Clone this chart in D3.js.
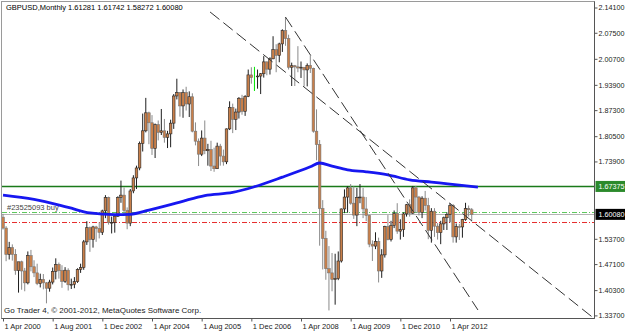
<!DOCTYPE html>
<html>
<head>
<meta charset="utf-8">
<script src="https://cdn.jsdelivr.net/npm/d3@7/dist/d3.min.js"></script>
<style>
  body { margin: 0; background: #fff; }
  text { font-family: "Liberation Sans", Arial, sans-serif; }
</style>
</head>
<body>
<div id="my_chart"></div>
<script>
// GBPUSD monthly bars, first bar = Apr 2000, last = Nov 2012
var opens = [1.5935,1.5650,1.4960,1.5140,1.4960,1.4540,1.4770,1.4530,1.4220,1.4930,1.4640,1.4480,
  1.4200,1.4310,1.4220,1.4080,1.4240,1.4520,1.4700,1.4540,1.4260,1.4550,1.4170,1.4180,
  1.4250,1.4570,1.4620,1.5290,1.5660,1.5350,1.5680,1.5640,1.5540,1.6100,1.6450,1.5790,
  1.5800,1.5960,1.6450,1.6510,1.6110,1.5780,1.6620,1.6960,1.7220,1.7860,1.8190,1.8660,
  1.8400,1.7730,1.8350,1.8150,1.8190,1.8020,1.8110,1.8390,1.9100,1.9190,1.8840,1.9190,
  1.8890,1.9080,1.8180,1.7920,1.7580,1.8000,1.7670,1.7700,1.7270,1.7200,1.7790,1.7530,
  1.7380,1.8240,1.8800,1.8490,1.8680,1.9040,1.8700,1.9090,1.9650,1.9580,1.9600,1.9620,
  1.9680,1.9990,1.9800,2.0070,2.0310,2.0160,2.0460,2.0810,2.0600,1.9850,1.9890,1.9860,
  1.9830,1.9850,1.9780,1.9900,1.9820,1.8180,1.7830,1.6160,1.5380,1.4590,1.4480,1.4310,
  1.4330,1.4790,1.6150,1.6460,1.6700,1.6300,1.5990,1.6450,1.6460,1.6150,1.5980,1.5230,
  1.5180,1.5300,1.4530,1.4950,1.5690,1.5350,1.5720,1.6030,1.5570,1.5610,1.6020,1.6260,
  1.6040,1.6700,1.6460,1.6060,1.6430,1.6240,1.5590,1.6090,1.5700,1.5530,1.5760,1.5920,
  1.6000,1.6240,1.5420,1.5690,1.5680,1.5870,1.6160,1.61281];
var highs = [1.6020,1.5700,1.5290,1.5225,1.5100,1.4740,1.4800,1.4610,1.5040,1.5080,1.4810,1.4720,
  1.4460,1.4450,1.4240,1.4300,1.4620,1.4860,1.4750,1.4680,1.4630,1.4600,1.4330,1.4370,
  1.4600,1.4720,1.5340,1.5830,1.5690,1.5710,1.5710,1.5800,1.6130,1.6510,1.6470,1.5950,
  1.5980,1.6480,1.6890,1.6710,1.6190,1.6670,1.7030,1.7280,1.7910,1.8640,1.9050,1.8690,
  1.8600,1.8380,1.8460,1.8760,1.8500,1.8190,1.8480,1.9150,1.9550,1.9200,1.9270,1.9340,
  1.9220,1.9170,1.8410,1.7990,1.8200,1.8460,1.7850,1.7930,1.7750,1.7880,1.7850,1.7700,
  1.8250,1.8960,1.8900,1.8770,1.9070,1.9130,1.9120,1.9790,1.9850,1.9860,1.9790,1.9700,
  2.0140,2.0000,2.0110,2.0660,2.0450,2.0490,2.0840,2.1160,2.0700,1.9970,1.9910,2.0400,
  2.0000,1.9850,1.9950,2.0160,1.9840,1.8750,1.7950,1.6380,1.5580,1.5180,1.5000,1.4980,
  1.5040,1.6160,1.6660,1.6740,1.6800,1.6740,1.6700,1.6800,1.6700,1.6460,1.6000,1.5330,
  1.5540,1.5400,1.5100,1.5710,1.5990,1.5840,1.6110,1.6300,1.5880,1.6060,1.6280,1.6400,
  1.6750,1.6750,1.6490,1.6480,1.6620,1.6440,1.6170,1.6170,1.5780,1.5840,1.5950,1.6060,
  1.6300,1.6280,1.5770,1.5760,1.5890,1.6310,1.6240,1.61742];
var lows = [1.5610,1.4785,1.4830,1.4800,1.4430,1.3965,1.4040,1.4000,1.4180,1.4520,1.4370,1.4160,
  1.4100,1.4050,1.3685,1.3990,1.4180,1.4310,1.4330,1.4090,1.4220,1.4020,1.4060,1.4080,
  1.4220,1.4480,1.4560,1.5210,1.5030,1.5140,1.5290,1.5380,1.5470,1.5910,1.5740,1.5510,
  1.5530,1.5940,1.6310,1.6010,1.5620,1.5700,1.6560,1.6670,1.7160,1.7650,1.8150,1.7840,
  1.7560,1.7480,1.7940,1.8080,1.7880,1.7740,1.7760,1.8240,1.9010,1.8560,1.8530,1.8720,
  1.8550,1.8150,1.7810,1.7270,1.7530,1.7580,1.7280,1.7140,1.7120,1.7200,1.7280,1.7280,
  1.7320,1.8210,1.8130,1.8210,1.8510,1.8610,1.8580,1.9070,1.9420,1.9230,1.9290,1.9150,
  1.9580,1.9640,1.9660,2.0060,1.9720,1.9980,2.0250,2.0410,1.9790,1.9360,1.9360,1.9720,
  1.9570,1.9350,1.9350,1.9700,1.8140,1.7420,1.5190,1.4570,1.4300,1.3500,1.4000,1.3650,
  1.4290,1.4750,1.6040,1.6050,1.6260,1.5890,1.5700,1.6300,1.5910,1.5830,1.5150,1.4790,
  1.5100,1.4230,1.4350,1.4880,1.5330,1.5300,1.5650,1.5500,1.5350,1.5420,1.5950,1.5950,
  1.6020,1.6050,1.5980,1.5910,1.6110,1.5360,1.5270,1.5420,1.5350,1.5230,1.5600,1.5600,
  1.5800,1.5270,1.5270,1.5340,1.5400,1.5840,1.5950,1.58272];
var closes = [1.5650,1.4960,1.5140,1.4960,1.4540,1.4770,1.4530,1.4220,1.4930,1.4640,1.4480,1.4200,
  1.4310,1.4220,1.4080,1.4240,1.4520,1.4700,1.4540,1.4260,1.4550,1.4170,1.4180,1.4250,
  1.4570,1.4620,1.5290,1.5660,1.5350,1.5680,1.5640,1.5540,1.6100,1.6450,1.5790,1.5800,
  1.5960,1.6450,1.6510,1.6110,1.5780,1.6620,1.6960,1.7220,1.7860,1.8190,1.8660,1.8400,
  1.7730,1.8350,1.8150,1.8190,1.8020,1.8110,1.8390,1.9100,1.9190,1.8840,1.9190,1.8890,
  1.9080,1.8180,1.7920,1.7580,1.8000,1.7670,1.7700,1.7270,1.7200,1.7790,1.7530,1.7380,
  1.8240,1.8800,1.8490,1.8680,1.9040,1.8700,1.9090,1.9650,1.9580,1.9600,1.9620,1.9680,
  1.9990,1.9800,2.0070,2.0310,2.0160,2.0460,2.0810,2.0600,1.9850,1.9890,1.9860,1.9830,
  1.9850,1.9780,1.9900,1.9820,1.8180,1.7830,1.6160,1.5380,1.4590,1.4480,1.4310,1.4330,
  1.4790,1.6150,1.6460,1.6700,1.6300,1.5990,1.6450,1.6460,1.6150,1.5980,1.5230,1.5180,
  1.5300,1.4530,1.4950,1.5690,1.5350,1.5720,1.6030,1.5570,1.5610,1.6020,1.6260,1.6040,
  1.6700,1.6460,1.6060,1.6430,1.6240,1.5590,1.6090,1.5700,1.5530,1.5760,1.5920,1.6000,
  1.6240,1.5420,1.5690,1.5680,1.5870,1.6160,1.6130,1.60080];
var selectedBar = 81; // Jan 2007 shows up as the green bar

// moving average: [bar index, price]
var maPoints = [[0,1.651],[10,1.640],[21,1.619],[28,1.6045],[36,1.600],[41,1.601],[47,1.612],
  [57,1.633],[65,1.650],[74,1.658],[81,1.673],[90,1.698],[99,1.725],[102,1.735],[106,1.727],
  [111,1.717],[117,1.712],[124,1.704],[131,1.691],[138,1.685],[144,1.680],[153,1.672]];

// dashed trend lines: [[bar, price], [bar, price]]
var trendLines = [
  [[66.7, 2.1293], [189.8, 1.3329]],
  [[91, 2.1161], [153, 1.3512]]
];

// horizontal levels
var levelLine = 1.67375, orderPrice = 1.6057, bidPrice = 1.60080, stopPrice = 1.5819;

// axis labels
var xTickBars = [0, 16, 32, 48, 64, 80, 96, 112, 128, 144];
var xTickLabels = ["1 Apr 2000","1 Aug 2001","1 Dec 2002","1 Apr 2004","1 Aug 2005",
  "1 Dec 2006","1 Apr 2008","1 Aug 2009","1 Dec 2010","1 Apr 2012"];
var yTickValues = [2.141, 2.075, 2.007, 1.939, 1.873, 1.805, 1.739, 1.537, 1.471, 1.403, 1.337];

var width = 625, height = 331;
var plotRight = 594.5, plotBottom = 318.5;

var svg = d3.select("#my_chart")
  .append("svg")
    .attr("width", width)
    .attr("height", height);

svg.append("rect").attr("width", width).attr("height", height).attr("fill", "#fff");

var x = d3.scaleLinear().domain([0, 144]).range([3, 450]);
var y = d3.scaleLinear().domain([1.337, 2.141]).range([315.4, 7.5]);

// snap a price to the middle of a pixel row so 1px lines stay crisp
function rowY(p) { return Math.round(y(p)) + 0.5; }

// clip everything inside the chart window
svg.append("defs").append("clipPath")
    .attr("id", "clip")
  .append("rect")
    .attr("x", 2).attr("y", 2)
    .attr("width", plotRight - 2).attr("height", plotBottom - 2);

var plot = svg.append("g").attr("clip-path", "url(#clip)");

// order / bid / stop lines
plot.append("line")
    .attr("x1", 2).attr("x2", plotRight)
    .attr("y1", rowY(bidPrice)).attr("y2", rowY(bidPrice))
    .attr("stroke", "#b4b4b4").attr("stroke-width", 1);
plot.append("line")
    .attr("x1", 2).attr("x2", plotRight)
    .attr("y1", rowY(orderPrice)).attr("y2", rowY(orderPrice))
    .attr("stroke", "#5cc85c").attr("stroke-width", 1)
    .attr("stroke-dasharray", "5,2,1,2");
plot.append("line")
    .attr("x1", 2).attr("x2", plotRight)
    .attr("y1", rowY(stopPrice)).attr("y2", rowY(stopPrice))
    .attr("stroke", "#e62e2e").attr("stroke-width", 1)
    .attr("stroke-dasharray", "5,2,1,2");
plot.append("text")
    .attr("x", 7).attr("y", rowY(orderPrice) - 2.5)
    .attr("font-size", "7.5px").attr("fill", "#444")
    .text("#23525093 buy");

// green level
plot.append("line")
    .attr("x1", 2).attr("x2", plotRight)
    .attr("y1", rowY(levelLine)).attr("y2", rowY(levelLine))
    .attr("stroke", "#1a7a1a").attr("stroke-width", 1.4);

// candles
var bars = d3.range(opens.length).map(function(i) {
  return {i: i, o: opens[i], h: highs[i], l: lows[i], c: closes[i]};
});

var candle = plot.selectAll(".candle")
  .data(bars)
  .enter()
  .append("g")
    .attr("class", "candle");

candle.append("line")
    .attr("x1", function(d) { return x(d.i); })
    .attr("x2", function(d) { return x(d.i); })
    .attr("y1", function(d) { return y(d.h); })
    .attr("y2", function(d) { return y(d.l); })
    .attr("stroke", function(d) {
      if (d.i == selectedBar) return "#00e600";
      return d.c >= d.o ? "#1e1e1e" : "#8a8a8a";
    })
    .attr("stroke-width", 1);

candle.filter(function(d) { return d.i != selectedBar; })
  .append("rect")
    .attr("x", function(d) { return x(d.i) - 1.3; })
    .attr("width", 2.6)
    .attr("y", function(d) { return y(Math.max(d.o, d.c)); })
    .attr("height", function(d) { return Math.max(0.8, Math.abs(y(d.o) - y(d.c))); })
    .attr("fill", "#c87f4a")
    .attr("stroke", function(d) { return d.c >= d.o ? "#262626" : "#767676"; })
    .attr("stroke-width", 0.6);

// moving average
plot.append("path")
    .datum(maPoints)
    .attr("fill", "none")
    .attr("stroke", "#1717f0")
    .attr("stroke-width", 2.8)
    .attr("d", d3.line()
      .curve(d3.curveMonotoneX)
      .x(function(d) { return x(d[0]); })
      .y(function(d) { return y(d[1]); })
    );

// trend lines
plot.selectAll(".trend")
  .data(trendLines)
  .enter()
  .append("line")
    .attr("class", "trend")
    .attr("x1", function(d) { return x(d[0][0]); })
    .attr("y1", function(d) { return y(d[0][1]); })
    .attr("x2", function(d) { return x(d[1][0]); })
    .attr("y2", function(d) { return y(d[1][1]); })
    .attr("stroke", "#333")
    .attr("stroke-width", 1)
    .attr("stroke-dasharray", "12,5");

// chart frame
svg.append("rect")
    .attr("x", 1.5).attr("y", 1.5)
    .attr("width", plotRight - 1.5).attr("height", plotBottom - 1.5)
    .attr("fill", "none")
    .attr("stroke", "#9a9a9a");
svg.append("line")
    .attr("x1", plotRight).attr("x2", plotRight)
    .attr("y1", 1.5).attr("y2", plotBottom)
    .attr("stroke", "#555");
svg.append("line")
    .attr("x1", 1.5).attr("x2", plotRight)
    .attr("y1", plotBottom).attr("y2", plotBottom)
    .attr("stroke", "#555");

// price axis
var yAxis = svg.append("g")
    .attr("transform", "translate(" + plotRight + ",0)")
    .call(d3.axisRight(y)
      .tickValues(yTickValues)
      .tickSize(3)
      .tickSizeOuter(0)
      .tickFormat(d3.format(".5f")));
yAxis.select(".domain").remove();
yAxis.selectAll("text")
    .attr("x", 4)
    .attr("font-size", "7.2px")
    .attr("font-family", "Liberation Sans, Arial, sans-serif")
    .attr("fill", "#222");
yAxis.selectAll("line").attr("stroke", "#555");

// time axis
var xAxis = svg.append("g")
    .attr("transform", "translate(0," + plotBottom + ")")
    .call(d3.axisBottom(x)
      .tickValues(xTickBars)
      .tickSize(3)
      .tickSizeOuter(0)
      .tickFormat(function(d, i) { return xTickLabels[i]; }));
xAxis.select(".domain").remove();
xAxis.selectAll("text")
    .attr("text-anchor", "start")
    .attr("x", 1)
    .attr("y", 5)
    .attr("font-size", "7.5px")
    .attr("font-family", "Liberation Sans, Arial, sans-serif")
    .attr("fill", "#222");
xAxis.selectAll("line").attr("stroke", "#555");

// price boxes on the axis
function priceBox(price, bg) {
  svg.append("rect")
      .attr("x", plotRight + 1).attr("y", y(price) - 5.5)
      .attr("width", width - plotRight).attr("height", 11)
      .attr("fill", bg);
  svg.append("text")
      .attr("x", plotRight + 4).attr("y", y(price) + 2.8)
      .attr("font-size", "7.2px")
      .attr("fill", "#fff")
      .text(d3.format(".5f")(price));
}
priceBox(levelLine, "#2b8a2b");
priceBox(bidPrice, "#000");

// header and footer texts
svg.append("text")
    .attr("x", 6).attr("y", 10)
    .attr("font-size", "7.5px")
    .attr("fill", "#000")
    .text("GBPUSD,Monthly  " + d3.format(".5f")(opens[opens.length - 1]) + " " +
      d3.format(".5f")(highs[highs.length - 1]) + " " + d3.format(".5f")(lows[lows.length - 1]) + " " +
      d3.format(".5f")(closes[closes.length - 1]));
svg.append("text")
    .attr("x", 4).attr("y", 313)
    .attr("font-size", "8px")
    .attr("fill", "#222")
    .text("Go Trader 4, © 2001-2012, MetaQuotes Software Corp.");
</script>
</body>
</html>
